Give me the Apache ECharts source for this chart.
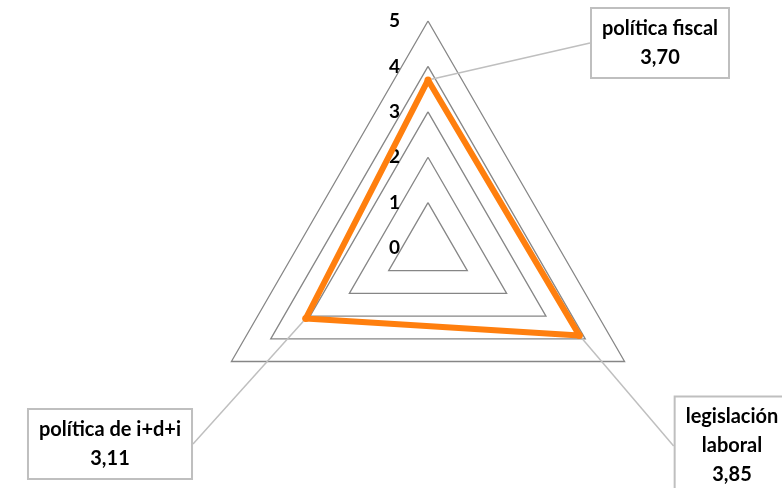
<!DOCTYPE html>
<html>
<head>
<meta charset="utf-8">
<script src="https://cdn.jsdelivr.net/npm/echarts@6/dist/echarts.min.js"></script>
<style>html,body{margin:0;padding:0;background:#fff}#c{width:782px;height:488px}</style>
</head>
<body>
<div id="c"></div>
<script>
const categories = ['política fiscal', 'política de i+d+i', 'legislación laboral'];
const labelLines = [['política fiscal'], ['política de i+d+i'], ['legislación', 'laboral']];
const values = [3.70, 3.11, 3.85];
const tickMin = 0, tickMax = 5, tickStep = 1;

const fmt = v => v.toFixed(2).replace('.', ',');
const boxPos = [
  {x: 660, y: 43},
  {x: 110, y: 444},
  {x: 732, y: 446}
];

const chart = echarts.init(document.getElementById('c'), null, {renderer: 'canvas'});
const font = 'Lato, "Open Sans", sans-serif';
chart.setOption({
  animation: false,
  radar: {
    center: [428, 248],
    radius: 227,
    startAngle: 90,
    shape: 'polygon',
    splitNumber: 5,
    indicator: categories.map(n => ({name: n, min: tickMin, max: tickMax})),
    axisName: {show: false},
    axisLine: {show: false},
    axisTick: {show: false},
    axisLabel: {show: false},
    splitArea: {show: false},
    splitLine: {lineStyle: {color: '#868686', width: 1.3}}
  },
  polar: {center: [428, 248], radius: 227},
  angleAxis: {type: 'value', startAngle: 90, show: false, min: 0, max: 360},
  radiusAxis: {
    type: 'value', min: tickMin, max: tickMax, interval: tickStep,
    axisLine: {show: false}, axisTick: {show: false}, splitLine: {show: false},
    axisLabel: {color: '#000', fontWeight: 'bold', fontSize: 19, fontFamily: font, margin: 28}
  },
  series: [{
    type: 'radar',
    symbol: 'circle',
    symbolSize: 7,
    itemStyle: {color: '#FF7F0E'},
    lineStyle: {color: '#FF7F0E', width: 6, join: 'round'},
    data: [{value: values}],
    label: {
      show: true,
      formatter: p => {
        const i = values.indexOf(p.value);
        return labelLines[i].concat([fmt(values[i])]).join('\n');
      },
      color: '#000',
      fontWeight: 'bold',
      fontSize: 20,
      fontFamily: font,
      lineHeight: 29,
      align: 'center',
      backgroundColor: '#fff',
      borderColor: '#bfbfbf',
      borderWidth: 2,
      padding: [5, 10]
    },
    labelLine: {show: true, length2: 0, lineStyle: {color: '#bfbfbf', width: 1.5}},
    labelLayout: p => {
      const t = p.text || '';
      let i = 0;
      if (t.indexOf('i+d+i') >= 0) i = 1; else if (t.indexOf('legisl') >= 0) i = 2;
      const b = boxPos[i];
      return {x: b.x, y: b.y, align: 'center', verticalAlign: 'middle'};
    }
  }]
});
</script>
</body>
</html>
